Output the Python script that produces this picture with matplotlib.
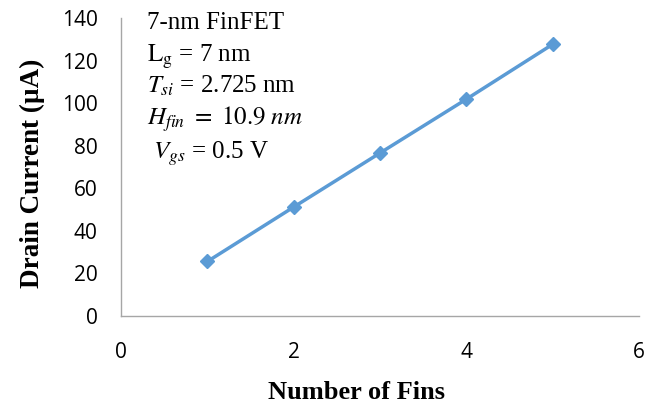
import matplotlib
matplotlib.use("Agg")
import matplotlib.pyplot as plt

fins = [1, 2, 3, 4, 5]
drain_current = [25.6, 51.2, 76.6, 101.9, 127.7]
x_ticks = [0, 2, 4, 6]
y_ticks = [0, 20, 40, 60, 80, 100, 120, 140]
info_lines = [
    "7-nm FinFET",
    r"$\mathrm{L_g}$ = 7 nm",
    r"$T_{si}$ = 2.725 nm",
    r"$H_{fin}\ =\ 10.9\ nm$",
    r" $V_{gs}$ = 0.5 V",
]
line_y = [1.02, 0.918, 0.815, 0.71, 0.595]

plt.rcParams["mathtext.fontset"] = "stix"

fig = plt.figure(figsize=(6.58, 4.04), dpi=100)
ax = fig.add_axes([0.184, 0.218, 0.787, 0.737])

ax.plot(fins, drain_current, color="#5B9BD5", linewidth=2.5,
        marker="D", markersize=7)

ax.set_xlim(0, 6)
ax.set_ylim(0, 140)
ax.set_xticks(x_ticks)
ax.set_yticks(y_ticks)
ax.tick_params(axis="x", length=0, labelsize=15, pad=19)
ax.tick_params(axis="y", length=0, labelsize=15, pad=17)
for lab in ax.get_xticklabels() + ax.get_yticklabels():
    lab.set_fontfamily("Open Sans")

for s in ["top", "right"]:
    ax.spines[s].set_visible(False)
for s in ["left", "bottom"]:
    ax.spines[s].set_color("#A6A6A6")
    ax.spines[s].set_linewidth(1)

ax.set_xlabel("Number of Fins", fontsize=19, fontweight="bold",
              fontfamily="Liberation Serif", labelpad=13)
ax.set_ylabel("Drain Current (\u00b5A)", fontsize=19.5, fontweight="bold",
              fontfamily="Liberation Serif", labelpad=12)
ax.xaxis.label.set_x(0.454)
ax.yaxis.label.set_y(0.48)

for line, y in zip(info_lines, line_y):
    ax.text(0.05, y, line, transform=ax.transAxes,
            fontsize=18, fontfamily="Liberation Serif", va="top")

fig.savefig("out.png", dpi=100)
